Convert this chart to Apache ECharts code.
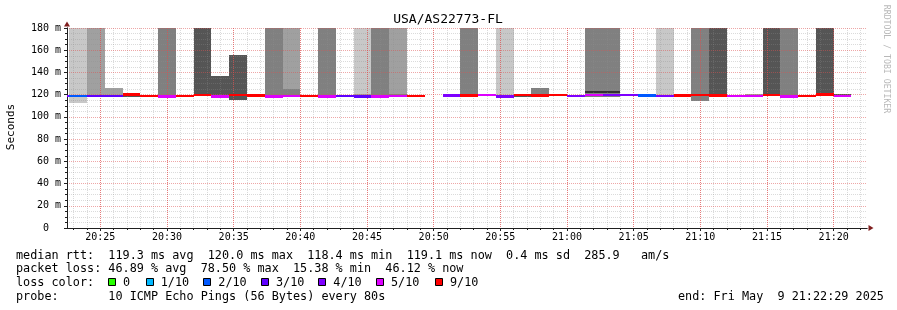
<!DOCTYPE html>
<html><head><meta charset="utf-8">
<script src="https://cdn.jsdelivr.net/npm/echarts@6/dist/echarts.min.js"></script>
<style>html,body{margin:0;padding:0;background:#fff}#c{width:897px;height:310px}</style>
</head><body><div id="c"></div>
<script>
// ---- data ----
const stepEnds = ['20:22:40','20:24:00','20:25:20','20:26:40','20:28:00','20:29:20','20:30:40','20:32:00','20:33:20','20:34:40',
  '20:36:00','20:37:20','20:38:40','20:40:00','20:41:20','20:42:40','20:44:00','20:45:20','20:46:40','20:48:00',
  '20:49:20','20:50:40','20:52:00','20:53:20','20:54:40','20:56:00','20:57:20','20:58:40','21:00:00','21:01:20',
  '21:02:40','21:04:00','21:05:20','21:06:40','21:08:00','21:09:20','21:10:40','21:12:00','21:13:20','21:14:40',
  '21:16:00','21:17:20','21:18:40','21:20:00','21:21:20'];
const medianMs = [119.0,118.8,118.7,118.8,120.0,119.0,118.2,119.0,119.7,118.5,
  119.7,119.3,118.2,119.0,119.0,118.5,118.8,118.2,118.2,119.0,
  118.8,null,119.3,119.1,119.7,118.5,119.5,119.3,119.7,118.8,
  119.7,119.7,119.7,119.2,119.0,119.3,119.5,119.3,119.0,119.0,
  119.5,118.5,119.0,120.0,119.0];
const lostPings = [4,2,3,3,9,9,5,9,9,5,
  9,9,5,5,9,5,3,3,5,5,
  9,null,4,9,5,4,9,9,9,4,
  5,4,4,2,4,9,9,9,5,5,
  9,5,9,9,5];
// smoke bands: [step end, low ms, high ms, shade]
const smokeBands = [
  ['20:24:00',112.8,180,'L'],
  ['20:25:20',118.5,180,'M'],
  ['20:26:40',120,125.7,'M'],['20:26:40',118.5,120,'D'],
  ['20:28:00',118,121,'X'],
  ['20:29:20',117.5,119.5,'X'],
  ['20:30:40',118.5,180,'D'],
  ['20:32:00',117.8,119,'X'],
  ['20:33:20',119.5,180,'X'],
  ['20:34:40',118.5,136.8,'X'],
  ['20:36:00',115.2,155.7,'X'],
  ['20:38:40',118.2,180,'D'],
  ['20:40:00',125.1,180,'M'],['20:40:00',119,125.1,'D'],
  ['20:42:40',118.5,180,'D'],
  ['20:45:20',120.3,180,'L'],['20:45:20',118.5,120.3,'M'],
  ['20:46:40',118.2,180,'D'],
  ['20:48:00',120.6,180,'M'],['20:48:00',119,120.6,'D'],
  ['20:49:20',117.5,120,'X'],
  ['20:52:00',118.5,120,'X'],
  ['20:53:20',119,180,'D'],
  ['20:56:00',119,180,'L'],['20:56:00',117.5,118.5,'X'],
  ['20:57:20',117.5,119.5,'X'],
  ['20:58:40',120.5,126,'D'],['20:58:40',117.5,119,'X'],
  ['21:02:40',123.6,180,'D'],['21:02:40',121.2,123.6,'K'],['21:02:40',117.6,121.2,'D'],
  ['21:04:00',123.6,180,'D'],['21:04:00',121.2,123.6,'K'],['21:04:00',117.6,121.2,'D'],
  ['21:08:00',119.5,180,'L'],
  ['21:09:20',118,120.5,'X'],
  ['21:10:40',114.3,180,'D'],
  ['21:12:00',119.5,180,'X'],
  ['21:14:40',118.8,120.6,'M'],
  ['21:16:00',119.5,180,'X'],
  ['21:17:20',118.2,180,'D'],
  ['21:18:40',117.5,119,'X'],
  ['21:20:00',120,180,'X'],
  ['21:21:20',117.5,120.5,'X']
];
const shadeColors = {L:'#c8c8c8', M:'#a0a0a0', D:'#808080', X:'#555555', K:'#333333'};
const lossLabels = ['0','1/10','2/10','3/10','4/10','5/10','9/10'];
const lossColors = ['#26ff00','#00b8ff','#0059ff','#5e00ff','#7e00ff','#dd00ff','#ff0000'];
const xTickLabels = ['20:25','20:30','20:35','20:40','20:45','20:50','20:55','21:00','21:05','21:10','21:15','21:20'];
const statLines = [
  'median rtt:  119.3 ms avg  120.0 ms max  118.4 ms min  119.1 ms now  0.4 ms sd  285.9   am/s',
  'packet loss: 46.89 % avg  78.50 % max  15.38 % min  46.12 % now',
  'loss color:',
  'probe:       10 ICMP Echo Pings (56 Bytes) every 80s'
];
const endText = 'end: Fri May  9 21:22:29 2025';
const titleText = 'USA/AS22773-FL';

// ---- helpers ----
const STEP = 80;
function toSec(s){ const p = s.split(':').map(Number); return p[0]*3600 + p[1]*60 + (p[2]||0); }
function fmt(v){ const h = Math.floor(v/3600), m = Math.floor((v%3600)/60); return String(h).padStart(2,'0')+':'+String(m).padStart(2,'0'); }
function lossColor(n){ return n <= 5 ? lossColors[n] : lossColors[6]; }
const T_MIN = toSec('20:22:30'), T_MAX = toSec('21:22:30');
const majorX = xTickLabels.map(toSec);
const minorX = [];
for (let t = Math.ceil(T_MIN/60)*60; t <= T_MAX; t += 60) if (t % 300 !== 0) minorX.push(t);

const MONO = '"DejaVu Sans Mono", monospace';
const smokeData = smokeBands.map(b => [toSec(b[0]) - STEP, toSec(b[0]), b[1], b[2]]);
const smokeCols = smokeBands.map(b => shadeColors[b[3]]);
const medData = [], medCols = [];
stepEnds.forEach((t, i) => {
  if (medianMs[i] == null) return;
  medData.push([toSec(t) - STEP, toSec(t), medianMs[i]]);
  medCols.push(lossColor(lostPings[i]));
});

function clipRect(params, x0, x1, y0, y1){
  const cs = params.coordSys;
  x0 = Math.max(x0, cs.x); x1 = Math.min(x1, cs.x + cs.width);
  y0 = Math.max(y0, cs.y); y1 = Math.min(y1, cs.y + cs.height);
  return {x: Math.round(x0), y: Math.round(y0), width: Math.round(x1) - Math.round(x0), height: Math.round(y1) - Math.round(y0)};
}

const gridMinor = {color:'rgba(143,143,143,0.32)', width:1, type:[1,1]};
const gridMajorX = {color:'rgba(222,79,79,0.75)', width:1, type:[1,1]};
const gridMajorY = {color:'rgba(222,79,79,0.5)', width:1, type:[1,1]};

const graphics = [
  {type:'text', x:448, y:20, style:{text:titleText, font:'13px '+MONO, fill:'#000', align:'center', verticalAlign:'middle'}},
  {type:'text', x:11, y:127, rotation:Math.PI/2, style:{text:'Seconds', font:'11px '+MONO, fill:'#000', align:'center', verticalAlign:'middle'}},
  {type:'text', x:886.5, y:59, rotation:-Math.PI/2, style:{text:'RRDTOOL / TOBI OETIKER', font:'8.2px '+MONO, fill:'#b8b8b8', align:'center', verticalAlign:'middle'}},
];
const lineY = [255.5, 269, 282.5, 296.5];
statLines.forEach((s, i) => graphics.push({type:'text', x:16, y:lineY[i], style:{text:s, font:'11.8px '+MONO, fill:'#000', align:'left', verticalAlign:'middle'}}));
graphics.push({type:'text', x:678, y:lineY[3], style:{text:endText, font:'11.8px '+MONO, fill:'#000', align:'left', verticalAlign:'middle'}});
const boxX = [108, 145.7, 203.3, 261, 318.3, 376, 435];
lossLabels.forEach((l, i) => {
  graphics.push({type:'rect', shape:{x:Math.round(boxX[i])+0.5, y:278.5, width:7, height:7}, style:{fill:lossColors[i], stroke:'#000', lineWidth:1}});
  graphics.push({type:'text', x:boxX[i]+15, y:lineY[2], style:{text:l, font:'11.8px '+MONO, fill:'#000', align:'left', verticalAlign:'middle'}});
});

const chart = echarts.init(document.getElementById('c'), null, {renderer:'canvas'});
chart.setOption({
  animation:false,
  backgroundColor:'#fff',
  grid:{left:67, top:28, width:800, height:200},
  xAxis:[
    {type:'value', min:T_MIN, max:T_MAX, position:'bottom', z:3,
     axisLine:{show:false}, axisLabel:{show:false},
     axisTick:{show:true, customValues:minorX, length:2, lineStyle:{color:'#1f1f1f'}},
     splitLine:{show:true, lineStyle:gridMinor}},
    {type:'value', min:T_MIN, max:T_MAX, position:'bottom', z:4,
     axisLine:{show:true, lineStyle:{color:'#1f1f1f', width:1}},
     axisTick:{show:true, customValues:majorX, length:3, lineStyle:{color:'#1f1f1f'}},
     axisLabel:{show:true, customValues:majorX, formatter:v => fmt(v), fontFamily:MONO, fontSize:10, color:'#000', margin:4},
     splitLine:{show:true, lineStyle:gridMajorX}},
    {type:'value', min:T_MIN, max:T_MAX, position:'bottom', z:2,
     axisLine:{show:true, symbol:['none','triangle'], symbolSize:[6,5], symbolOffset:[0,4], lineStyle:{color:'#801f1f'}},
     axisTick:{show:false}, axisLabel:{show:false}, splitLine:{show:false}}
  ],
  yAxis:[
    {type:'value', min:0, max:180, interval:20, position:'left', z:4,
     axisLine:{show:true, lineStyle:{color:'#1f1f1f', width:1}},
     axisTick:{show:true, length:3, lineStyle:{color:'#1f1f1f'}},
     minorTick:{show:true, splitNumber:4, length:2, lineStyle:{color:'#1f1f1f'}},
     axisLabel:{formatter:v => v === 0 ? '0  ' : v + ' m', fontFamily:MONO, fontSize:10, color:'#000', margin:6},
     splitLine:{show:true, lineStyle:gridMajorY},
     minorSplitLine:{show:true, lineStyle:gridMinor}},
    {type:'value', min:0, max:180, interval:20, position:'left', z:2,
     axisLine:{show:true, symbol:['none','triangle'], symbolSize:[6,5], symbolOffset:[0,4], lineStyle:{color:'#801f1f'}},
     axisTick:{show:false}, axisLabel:{show:false}, splitLine:{show:false}}
  ],
  series:[
    {type:'custom', name:'smoke', xAxisIndex:1, yAxisIndex:0, z:1, silent:true,
     data:smokeData, encode:{x:[0,1], y:[2,3]},
     renderItem:(params, api) => {
       const a = api.coord([api.value(0), api.value(3)]);
       const b = api.coord([api.value(1), api.value(2)]);
       return {type:'rect', shape:clipRect(params, a[0], b[0], a[1], b[1]), style:{fill:smokeCols[params.dataIndex]}};
     }},
    {type:'custom', name:'median', xAxisIndex:1, yAxisIndex:0, z:5, silent:true,
     data:medData, encode:{x:[0,1], y:2},
     renderItem:(params, api) => {
       const a = api.coord([api.value(0), api.value(2)]);
       const b = api.coord([api.value(1), api.value(2)]);
       return {type:'rect', shape:clipRect(params, a[0], b[0], a[1]-1.2, a[1]+1.2), style:{fill:medCols[params.dataIndex]}};
     }}
  ],
  graphic:graphics
});
</script></body></html>
